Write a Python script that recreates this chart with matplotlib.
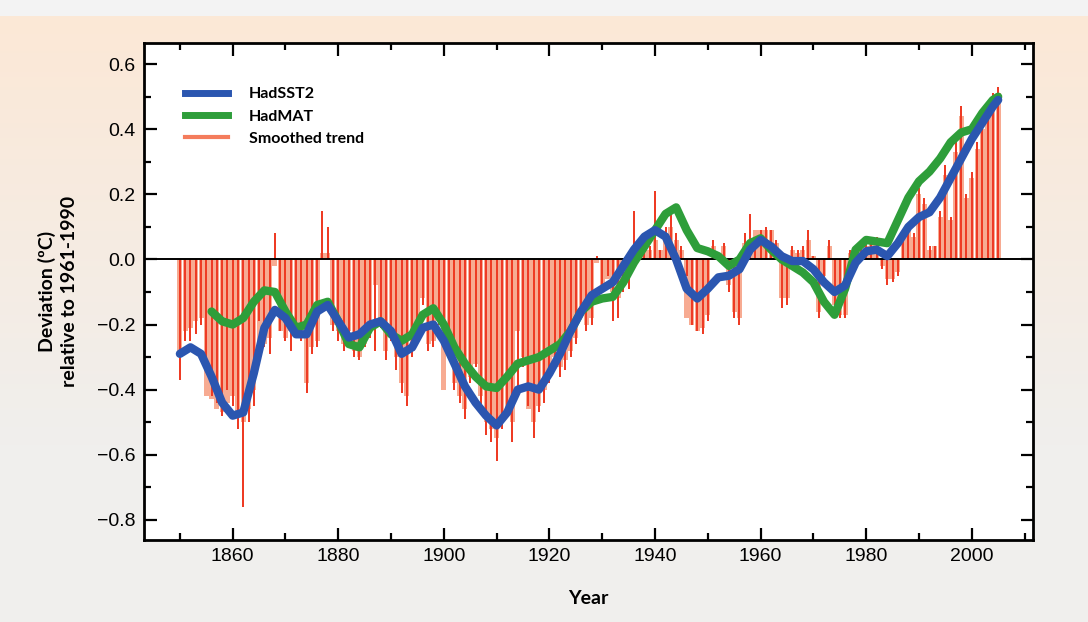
import numpy as np
import matplotlib
matplotlib.use("Agg")
import matplotlib.pyplot as plt
from matplotlib.ticker import MultipleLocator
from matplotlib.lines import Line2D

# --- DATEN ---
jahre = np.arange(1850, 2006)

# Jahreswerte (dünne rote Balken)
werte_rot = [
    -0.37, -0.25, -0.25, -0.23, -0.20, -0.30, -0.42, -0.44, -0.48, -0.40,
    -0.45, -0.52, -0.76, -0.50, -0.45, -0.19, -0.27, -0.29, 0.08, -0.22,
    -0.25, -0.28, -0.21, -0.25, -0.41, -0.29, -0.27, 0.15, 0.10, -0.22,
    -0.25, -0.28, -0.24, -0.30, -0.31, -0.27, -0.24, -0.28, -0.21, -0.31,
    -0.25, -0.34, -0.41, -0.45, -0.30, -0.26, -0.14, -0.28, -0.27, -0.20,
    -0.27, -0.30, -0.40, -0.44, -0.49, -0.38, -0.33, -0.45, -0.54, -0.56,
    -0.62, -0.52, -0.48, -0.56, -0.40, -0.33, -0.45, -0.55, -0.47, -0.44,
    -0.38, -0.32, -0.36, -0.34, -0.30, -0.26, -0.18, -0.22, -0.20, 0.01,
    -0.10, -0.05, -0.19, -0.18, -0.10, -0.09, 0.15, 0.02, 0.06, 0.04,
    0.21, 0.03, 0.10, 0.15, 0.08, 0.04, -0.05, -0.20, -0.22, -0.23,
    -0.19, 0.06, 0.00, 0.05, -0.10, -0.18, -0.20, 0.08, 0.14, 0.04,
    0.09, 0.10, 0.09, 0.06, -0.15, -0.14, 0.04, 0.03, 0.04, 0.09,
    0.01, -0.18, -0.06, 0.06, -0.16, -0.18, -0.18, 0.03, 0.00, 0.04,
    0.05, 0.07, 0.07, -0.03, -0.08, -0.07, -0.05, 0.09, 0.11, 0.08,
    0.22, 0.19, 0.04, 0.04, 0.15, 0.29, 0.13, 0.36, 0.47, 0.20,
    0.27, 0.36, 0.42, 0.45, 0.51, 0.53,
]

# breite helle Balken
werte_lachs = [
    -0.30, -0.22, -0.21, -0.19, -0.18, -0.42, -0.43, -0.46, -0.47, -0.44,
    -0.42, -0.48, -0.50, -0.46, -0.40, -0.25, -0.26, -0.24, -0.02, -0.22,
    -0.24, -0.22, -0.20, -0.24, -0.38, -0.27, -0.25, 0.02, 0.02, -0.20,
    -0.22, -0.26, -0.22, -0.28, -0.30, -0.26, -0.22, -0.08, -0.20, -0.28,
    -0.24, -0.30, -0.38, -0.42, -0.28, -0.24, -0.12, -0.26, -0.25, -0.19,
    -0.40, -0.29, -0.38, -0.42, -0.46, -0.36, -0.32, -0.42, -0.50, -0.52,
    -0.55, -0.50, -0.46, -0.50, -0.22, -0.30, -0.46, -0.50, -0.45, -0.40,
    -0.36, -0.30, -0.33, -0.31, -0.28, -0.24, -0.17, -0.20, -0.18, -0.01,
    -0.08, -0.06, -0.10, -0.12, -0.08, -0.05, 0.02, 0.02, 0.04, 0.03,
    0.06, 0.03, 0.07, 0.10, 0.06, 0.03, -0.18, -0.20, -0.22, -0.21,
    -0.17, 0.04, 0.00, 0.04, -0.08, -0.16, -0.18, 0.05, 0.06, 0.09,
    0.09, 0.09, 0.09, 0.05, -0.12, -0.12, 0.03, 0.02, 0.03, 0.06,
    0.01, -0.16, -0.05, 0.04, -0.14, -0.17, -0.17, 0.02, 0.00, 0.03,
    0.04, 0.05, 0.06, -0.02, -0.06, -0.06, -0.04, 0.08, 0.10, 0.07,
    0.20, 0.17, 0.03, 0.04, 0.13, 0.26, 0.12, 0.33, 0.44, 0.19,
    0.25, 0.34, 0.40, 0.44, 0.49, 0.51,
]

# HadSST2 (blau)
sst_jahre = list(range(1850, 2005, 2)) + [2005]
sst_werte = [
    -0.29, -0.27, -0.29, -0.36, -0.44, -0.48, -0.47, -0.35, -0.21, -0.155,
    -0.18, -0.23, -0.23, -0.16, -0.14, -0.19, -0.24, -0.23, -0.20, -0.19,
    -0.22, -0.29, -0.27, -0.21, -0.20, -0.25, -0.32, -0.39, -0.44, -0.48,
    -0.51, -0.47, -0.40, -0.39, -0.40, -0.35, -0.29, -0.22, -0.16, -0.11,
    -0.09, -0.07, -0.02, 0.03, 0.07, 0.09, 0.07, 0.00, -0.09, -0.12,
    -0.09, -0.055, -0.05, -0.03, 0.03, 0.06, 0.04, 0.01, -0.005, -0.005,
    -0.03, -0.07, -0.10, -0.08, -0.01, 0.025, 0.03, 0.01, 0.05, 0.10,
    0.13, 0.145, 0.19, 0.25, 0.31, 0.37, 0.42, 0.47, 0.49,
]

# HadMAT (grün)
mat_jahre = list(range(1856, 2005, 2)) + [2005]
mat_werte = [
    -0.16, -0.19, -0.20, -0.18, -0.13, -0.095, -0.10, -0.16, -0.21, -0.20,
    -0.14, -0.13, -0.19, -0.26, -0.27, -0.21, -0.19, -0.23, -0.25, -0.23,
    -0.17, -0.15, -0.20, -0.27, -0.32, -0.36, -0.39, -0.395, -0.36, -0.32,
    -0.31, -0.30, -0.28, -0.26, -0.22, -0.16, -0.13, -0.12, -0.115, -0.07,
    -0.01, 0.04, 0.09, 0.14, 0.16, 0.09, 0.035, 0.025, 0.01, -0.02,
    0.00, 0.05, 0.065, 0.03, 0.00, -0.02, -0.04, -0.07, -0.13, -0.17,
    -0.09, 0.03, 0.06, 0.055, 0.05, 0.12, 0.19, 0.24, 0.27, 0.31,
    0.36, 0.39, 0.40, 0.45, 0.49, 0.50,
]

y_ticks = [-0.8, -0.6, -0.4, -0.2, 0.0, 0.2, 0.4, 0.6]
y_labels = ["\u22120.8", "\u22120.6", "\u22120.4", "\u22120.2", "0.0", "0.2", "0.4", "0.6"]

# --- FIGUR ---
fig = plt.figure(figsize=(10.88, 6.22), dpi=100)

# Hintergrund: pfirsichfarben oben, nach unten grau
bg = fig.add_axes([0, 0, 1, 1], zorder=-10)
h, w = 622, 1088
t = np.clip((np.arange(h) - 15) / 430.0, 0, 1)[:, None]
peach = np.array([252, 232, 214]) / 255.0
grau = np.array([240, 239, 237]) / 255.0
img = (1 - t)[..., None] * peach + t[..., None] * grau
img = np.repeat(img, w, axis=1)
img[:16, :, :] = np.array([243, 243, 243]) / 255.0
bg.imshow(img, aspect="auto", extent=[0, w, h, 0])
bg.set_xlim(0, w)
bg.set_ylim(h, 0)
bg.axis("off")

ax = fig.add_axes([144 / 1088, 1 - 540 / 622, (1033 - 144) / 1088, (540 - 43) / 622])
ax.set_facecolor("white")

ax.bar(jahre, werte_lachs, width=0.95, color="#f7ab92", linewidth=0, zorder=1)
ax.bar(jahre, werte_rot, width=0.38, color="#ee3b24", linewidth=0, zorder=2)
ax.axhline(0, color="black", linewidth=1.4, zorder=3)

ax.plot(mat_jahre, mat_werte, color="#2e9e3a", linewidth=6, solid_capstyle="round",
        solid_joinstyle="round", zorder=4)
ax.plot(sst_jahre, sst_werte, color="#2b56b0", linewidth=6, solid_capstyle="round",
        solid_joinstyle="round", zorder=5)

ax.set_xlim(1843.2, 2011.6)
ax.set_ylim(-0.862, 0.665)

ax.xaxis.set_major_locator(MultipleLocator(20))
ax.xaxis.set_minor_locator(MultipleLocator(10))
ax.yaxis.set_minor_locator(MultipleLocator(0.1))
ax.set_yticks(y_ticks)
ax.set_yticklabels(y_labels)
ax.tick_params(which="both", direction="in", top=True, right=True, width=1.6, color="black")
ax.tick_params(which="major", length=9, labelsize=14, pad=6)
ax.tick_params(which="minor", length=5)
for lab in ax.get_xticklabels() + ax.get_yticklabels():
    lab.set_family(["Liberation Sans Narrow", "Liberation Sans", "DejaVu Sans"])
for sp in ax.spines.values():
    sp.set_linewidth(2)

bold = ["Lato", "DejaVu Sans"]
ax.set_xlabel("Year", fontsize=14, fontweight="bold", family=bold, labelpad=18)
ax.set_ylabel("Deviation (ºC)\nrelative to 1961-1990", fontsize=14, fontweight="bold",
              family=bold, labelpad=14, linespacing=1.35)

handles = [
    Line2D([], [], color="#2b56b0", linewidth=5),
    Line2D([], [], color="#2e9e3a", linewidth=5),
    Line2D([], [], color="#f47c5c", linewidth=3),
]
leg = ax.legend(handles, ["HadSST2", "HadMAT", "Smoothed trend"], loc="upper left",
                bbox_to_anchor=(0.03, 0.94), frameon=False, handlelength=2.7,
                handletextpad=1.3, labelspacing=0.5,
                prop={"family": bold, "weight": "bold", "size": 11.5})

fig.savefig("out.png", dpi=100)
